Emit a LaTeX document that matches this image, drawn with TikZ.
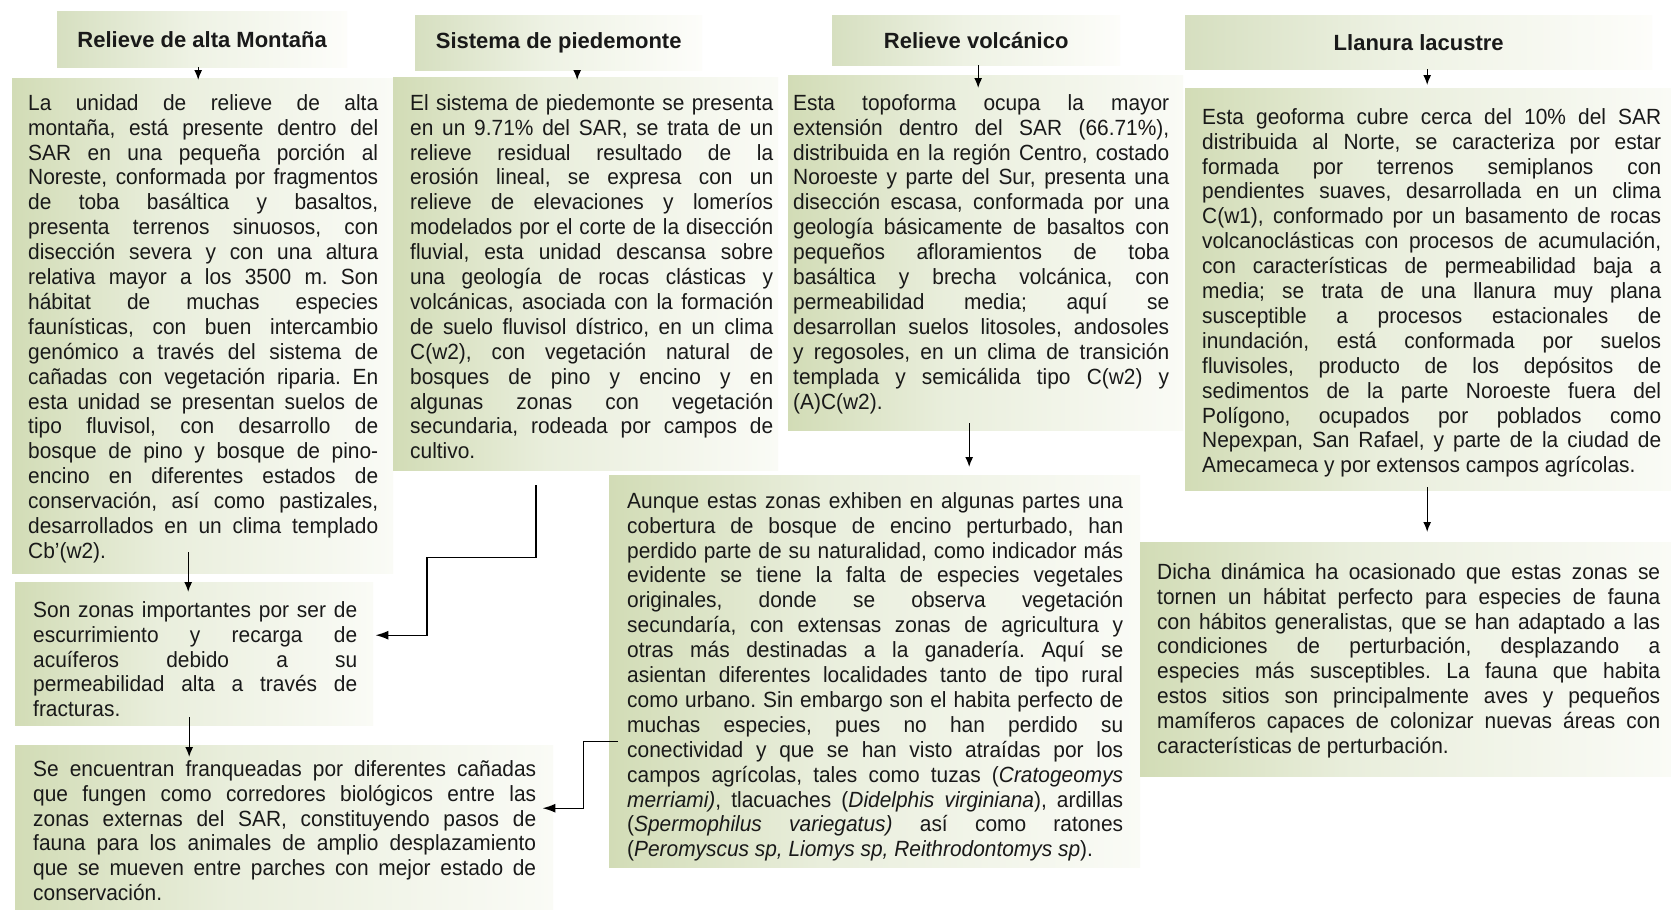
\documentclass[tikz,border=0pt]{standalone}
\usepackage{fontspec}
\setmainfont{Liberation Sans}
\newfontfamily\bodyf{Liberation Sans}[FakeStretch=0.95]
\usetikzlibrary{arrows.meta,calc}
\definecolor{gA}{RGB}{210,220,182}
\definecolor{gB}{RGB}{233,238,220}
\definecolor{gC}{RGB}{250,251,246}
\definecolor{tA}{RGB}{214,223,192}
\definecolor{tB}{RGB}{238,242,228}
\definecolor{tC}{RGB}{253,253,250}
\definecolor{txt}{RGB}{25,25,25}
\pgfdeclarehorizontalshading{boxsh}{100bp}{color(0bp)=(gA); color(25bp)=(gA); color(45bp)=(gB); color(75bp)=(gC); color(100bp)=(gC)}
\pgfdeclarehorizontalshading{titsh}{100bp}{color(0bp)=(tA); color(25bp)=(tA); color(48bp)=(tB); color(75bp)=(tC); color(100bp)=(tC)}
\newcommand\st{\noindent\rule{0pt}{17pt}}
\newcommand\brk{\linebreak}
\tikzset{
  box/.style={anchor=north west, inner sep=0pt, draw=none, shade, shading=boxsh, shading angle=0},
  tbox/.style={anchor=north west, inner sep=0pt, draw=none, shade, shading=titsh, shading angle=0,
    font=\bfseries\fontsize{22}{25}\selectfont, text=txt},
  body/.style={anchor=north west, inner sep=0pt, align=justify, text=txt,
    font=\bodyf\fontsize{22}{24.9}\selectfont,
    execute at begin node={\tolerance=10000\hyphenpenalty=10000\exhyphenpenalty=10000\frenchspacing\parindent=0pt}},
  arr/.style={line width=1.4pt, draw=black, -{Latex[length=10pt,width=8pt]}},
  arrb/.style={line width=1.4pt, draw=black, -{Latex[length=13pt,width=9pt]}},
}
\begin{document}
\begin{tikzpicture}[x=1pt,y=-1pt]
\useasboundingbox[fill=white] (0,0) rectangle (1671,910);

% boxes
\node[tbox, minimum width=290pt, minimum height=56pt] (t1) at (57,11) {Relieve de alta Montaña};
\node[tbox, minimum width=287pt, minimum height=55pt] (t2) at (415,15) {Sistema de piedemonte};
\node[tbox, minimum width=288pt, minimum height=50pt] (t3) at (832,15) {Relieve volcánico};
\node[tbox, minimum width=467pt, minimum height=54pt] (t4) at (1185,15) {Llanura lacustre};

\node[box, minimum width=381pt, minimum height=495pt] (b1) at (12,78) {};
\node[box, minimum width=385pt, minimum height=393pt] (b2) at (393,77) {};
\node[box, minimum width=395pt, minimum height=355pt] (b3) at (788,75) {};
\node[box, minimum width=486pt, minimum height=402pt] (b4) at (1185,88) {};
\node[box, minimum width=531pt, minimum height=392pt] (b5) at (609,475) {};
\node[box, minimum width=531pt, minimum height=234pt] (b6) at (1140,542) {};
\node[box, minimum width=358pt, minimum height=143pt] (sz) at (15,582) {};
\node[box, minimum width=538pt, minimum height=165pt] (se) at (15,745) {};

% texts
\node[body, text width=350pt] (b1t) at (28,93) {\st La unidad de relieve de alta\brk
montaña, está presente dentro del\brk
SAR en una pequeña porción al\brk
Noreste, conformada por fragmentos\brk
de toba basáltica y basaltos,\brk
presenta terrenos sinuosos, con\brk
disección severa y con una altura\brk
relativa mayor a los 3500 m. Son\brk
hábitat de muchas especies\brk
faunísticas, con buen intercambio\brk
genómico a través del sistema de\brk
cañadas con vegetación riparia. En\brk
esta unidad se presentan suelos de\brk
tipo fluvisol, con desarrollo de\brk
bosque de pino y bosque de pino-\brk
encino en diferentes estados de\brk
conservación, así como pastizales,\brk
desarrollados en un clima templado\brk
Cb’(w2).};

\node[body, text width=363pt] (b2t) at (410,93) {\st El sistema de piedemonte se presenta\brk
en un 9.71\% del SAR, se trata de un\brk
relieve residual resultado de la\brk
erosión lineal, se expresa con un\brk
relieve de elevaciones y lomeríos\brk
modelados por el corte de la disección\brk
fluvial, esta unidad descansa sobre\brk
una geología de rocas clásticas y\brk
volcánicas, asociada con la formación\brk
de suelo fluvisol dístrico, en un clima\brk
C(w2), con vegetación natural de\brk
bosques de pino y encino y en\brk
algunas zonas con vegetación\brk
secundaria, rodeada por campos de\brk
cultivo.};

\node[body, text width=376pt] (b3t) at (793,93) {\st Esta topoforma ocupa la mayor\brk
extensión dentro del SAR (66.71\%),\brk
distribuida en la región Centro, costado\brk
Noroeste y parte del Sur, presenta una\brk
disección escasa, conformada por una\brk
geología básicamente de basaltos con\brk
pequeños afloramientos de toba\brk
basáltica y brecha volcánica, con\brk
permeabilidad media; aquí se\brk
desarrollan suelos litosoles, andosoles\brk
y regosoles, en un clima de transición\brk
templada y semicálida tipo C(w2) y\brk
(A)C(w2).};

\node[body, text width=459pt] (b4t) at (1202,107) {\st Esta geoforma cubre cerca del 10\% del SAR\brk
distribuida al Norte, se caracteriza por estar\brk
formada por terrenos semiplanos con\brk
pendientes suaves, desarrollada en un clima\brk
C(w1), conformado por un basamento de rocas\brk
volcanoclásticas con procesos de acumulación,\brk
con características de permeabilidad baja a\brk
media; se trata de una llanura muy plana\brk
susceptible a procesos estacionales de\brk
inundación, está conformada por suelos\brk
fluvisoles, producto de los depósitos de\brk
sedimentos de la parte Noroeste fuera del\brk
Polígono, ocupados por poblados como\brk
Nepexpan, San Rafael, y parte de la ciudad de\brk
Amecameca y por extensos campos agrícolas.};

\node[body, text width=496pt] (b5t) at (627,491) {\st Aunque estas zonas exhiben en algunas partes una\brk
cobertura de bosque de encino perturbado, han\brk
perdido parte de su naturalidad, como indicador más\brk
evidente se tiene la falta de especies vegetales\brk
originales, donde se observa vegetación\brk
secundaría, con extensas zonas de agricultura y\brk
otras más destinadas a la ganadería. Aquí se\brk
asientan diferentes localidades tanto de tipo rural\brk
como urbano. Sin embargo son el habita perfecto de\brk
muchas especies, pues no han perdido su\brk
conectividad y que se han visto atraídas por los\brk
campos agrícolas, tales como tuzas (\textit{Cratogeomys}\brk
\textit{merriami)}, tlacuaches (\textit{Didelphis virginiana}), ardillas\brk
(\textit{Spermophilus variegatus)} así como ratones\brk
(\textit{Peromyscus sp, Liomys sp, Reithrodontomys sp}).};

\node[body, text width=503pt] (b6t) at (1157,562) {\st Dicha dinámica ha ocasionado que estas zonas se\brk
tornen un hábitat perfecto para especies de fauna\brk
con hábitos generalistas, que se han adaptado a las\brk
condiciones de perturbación, desplazando a\brk
especies más susceptibles. La fauna que habita\brk
estos sitios son principalmente aves y pequeños\brk
mamíferos capaces de colonizar nuevas áreas con\brk
características de perturbación.};

\node[body, text width=324pt] (szt) at (33,600) {\st Son zonas importantes por ser de\brk
escurrimiento y recarga de\brk
acuíferos debido a su\brk
permeabilidad alta a través de\brk
fracturas.};

\node[body, text width=503pt] (set) at (33,759) {\st Se encuentran franqueadas por diferentes cañadas\brk
que fungen como corredores biológicos entre las\brk
zonas externas del SAR, constituyendo pasos de\brk
fauna para los animales de amplio desplazamiento\brk
que se mueven entre parches con mejor estado de\brk
conservación.};

% connectors
\draw[arr] ($(t1.south)+(-4,0)$) -- ($(t1.south |- b1.north)+(-4,2)$);
\draw[arr] ($(t2.south)+(18.5,0)$) -- ($(t2.south |- b2.north)+(18.5,3)$);
\draw[arr] ($(t3.south)+(2,0)$) -- ($(t3.south |- b3.north)+(2,13)$);
\draw[arr] ($(t4.south)+(8.5,0)$) -- ($(t4.south |- b4.north)+(8.5,-3)$);

\draw[arr] ($(b1.south)+(-14.5,-21)$) -- ($(b1.south |- sz.north)+(-14.5,10)$);
\draw[arr] ($(sz.south)+(-5,-8)$) -- ($(sz.south |- se.north)+(-5,12)$);
\draw[arr] ($(b3.south)+(-16.5,-7)$) -- ($(b3.south |- b5.north)+(-16.5,-8)$);
\draw[arr] ($(b4.south)+(-1,-3)$) -- ($(b4.south |- b6.north)+(-1,-10)$);

\draw[arrb] ($(b2.south west)+(143,15)$) |- ($(b2.south west)+(34,87)$) |- ($(sz.east)+(2,-18.5)$);
\draw[arrb] ($(b5.west)+(9,70)$) -| ($(se.east)+(30,-19.5)$) -- ($(se.east)+(-11,-19.5)$);
\end{tikzpicture}
\end{document}
